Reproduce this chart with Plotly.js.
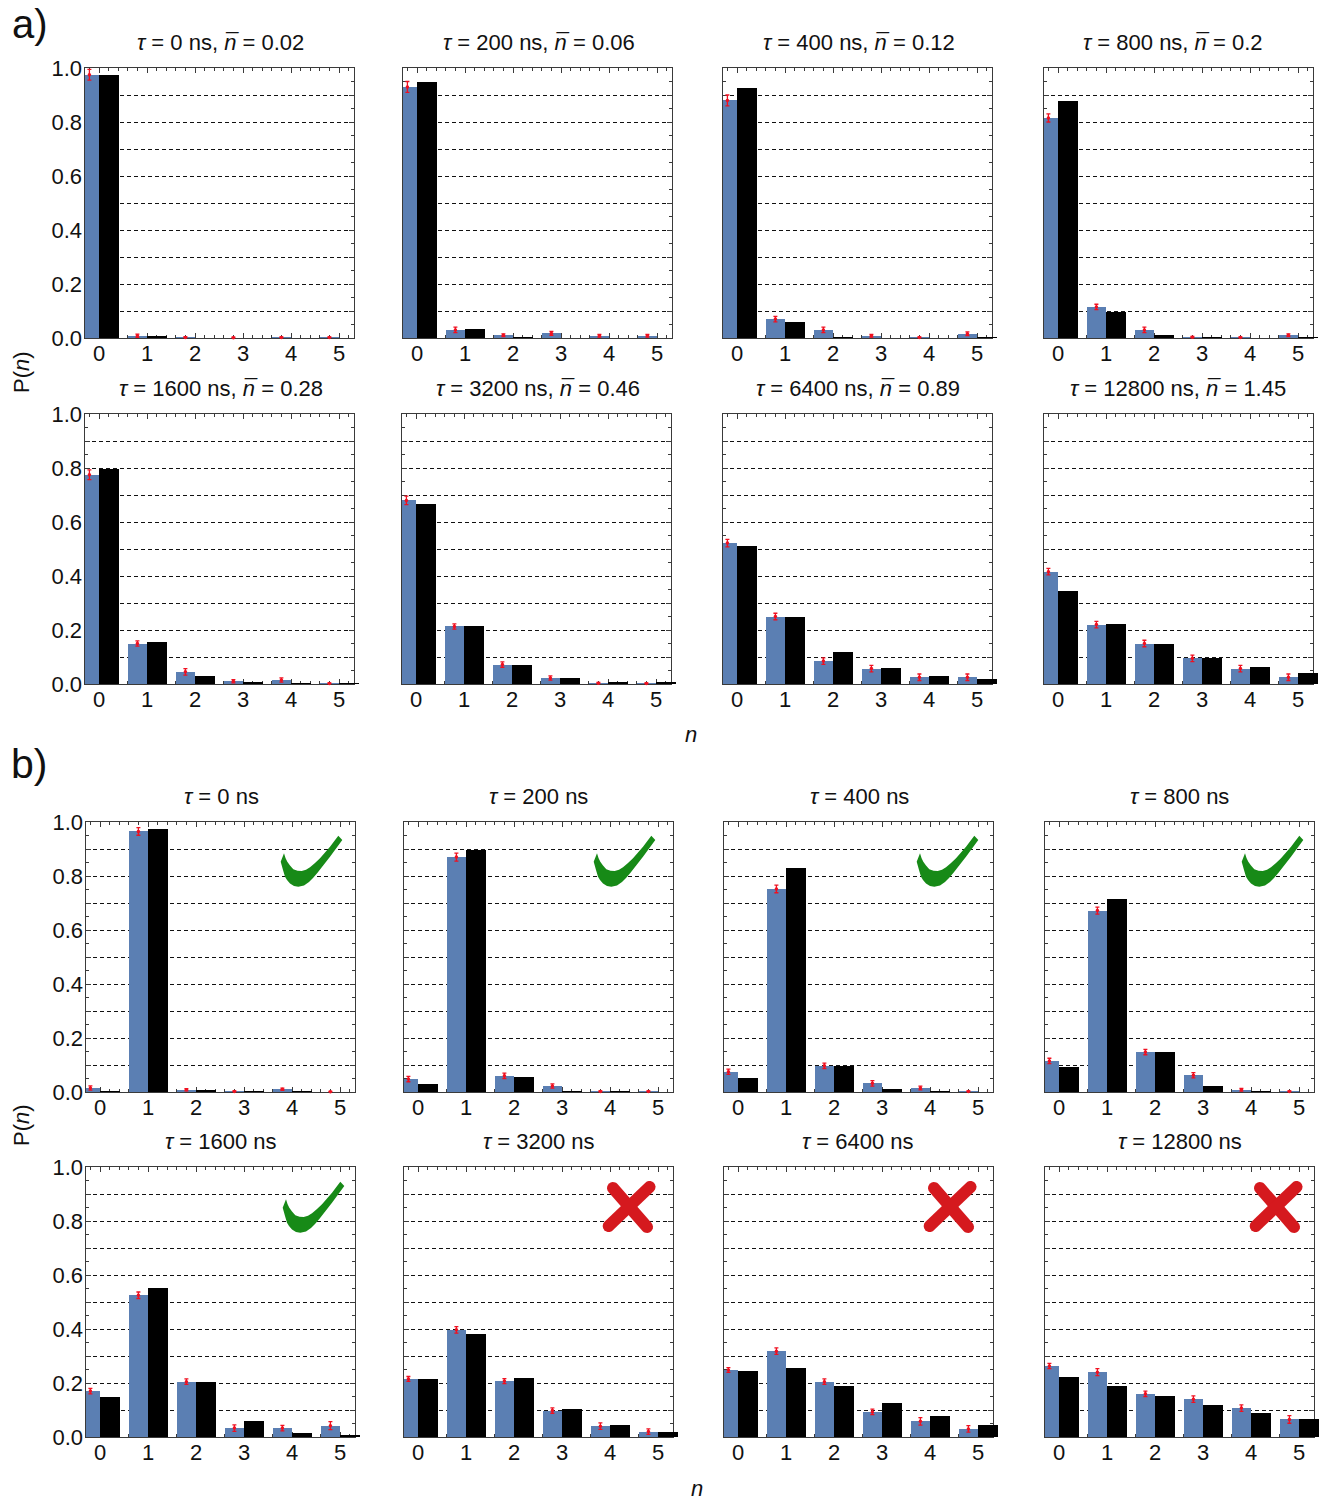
<!DOCTYPE html>
<html><head><meta charset="utf-8">
<script src="https://cdn.plot.ly/plotly-3.0.1.min.js"></script>
<style>html,body{margin:0;padding:0;background:#fff}</style></head>
<body><div id="chart" style="width:1332px;height:1501px"></div>
<script>
const occupation = [0,1,2,3,4,5];
const yTickVals = [0,0.1,0.2,0.3,0.4,0.5,0.6,0.7,0.8,0.9,1];
const yTickText = ['0.0','','0.2','','0.4','','0.6','','0.8','','1.0'];

const delays = [0,200,400,800,1600,3200,6400,12800];
const nbarA = ['0.02','0.06','0.12','0.2','0.28','0.46','0.89','1.45'];

const measuredA = [
 [.975,.008,.002,.001,.002,.002],
 [.93,.03,.01,.017,.008,.008],
 [.88,.07,.03,.008,.002,.016],
 [.815,.115,.03,.003,.002,.01],
 [.775,.15,.045,.01,.015,.002],
 [.68,.213,.072,.022,.003,.002],
 [.522,.25,.085,.057,.025,.025],
 [.416,.22,.15,.095,.057,.025]];
const theoryA = [
 [.975,.008,.001,.001,.001,.001],
 [.95,.033,.003,.001,.001,.001],
 [.925,.06,.005,.001,.001,.003],
 [.877,.097,.012,.002,.001,.005],
 [.795,.155,.03,.007,.003,.003],
 [.668,.215,.07,.023,.008,.006],
 [.51,.247,.12,.058,.028,.017],
 [.345,.224,.148,.097,.063,.042]];
const errorA = [
 [.02,.006,.003,.002,.002,.002],
 [.02,.01,.005,.007,.005,.005],
 [.02,.01,.01,.005,.002,.007],
 [.015,.01,.01,.003,.002,.005],
 [.018,.01,.012,.006,.008,.002],
 [.016,.01,.01,.008,.003,.002],
 [.014,.012,.012,.012,.012,.012],
 [.012,.012,.012,.012,.012,.012]];
const measuredB = [
 [.015,.965,.008,.002,.01,.001],
 [.048,.87,.06,.022,.002,.002],
 [.075,.752,.097,.032,.015,.002],
 [.115,.672,.148,.062,.008,.002],
 [.17,.525,.205,.033,.033,.042],
 [.215,.397,.207,.098,.04,.02],
 [.248,.318,.205,.093,.058,.03],
 [.263,.24,.16,.14,.107,.065]];
const theoryB = [
 [.002,.975,.006,.002,.003,.001],
 [.028,.897,.057,.003,.002,.001],
 [.052,.83,.095,.01,.002,.001],
 [.092,.715,.15,.023,.005,.001],
 [.15,.553,.205,.058,.016,.006],
 [.213,.382,.22,.103,.045,.02],
 [.245,.255,.19,.125,.077,.045],
 [.223,.19,.152,.117,.088,.065]];
const errorB = [
 [.008,.014,.004,.002,.004,.001],
 [.01,.015,.01,.008,.002,.002],
 [.01,.014,.01,.01,.007,.002],
 [.01,.013,.01,.01,.005,.002],
 [.01,.012,.01,.012,.01,.015],
 [.009,.012,.009,.01,.012,.01],
 [.009,.012,.01,.01,.014,.012],
 [.01,.013,.01,.012,.012,.014]];

const W=1332, H=1501;
const FONT='Liberation Sans, Arial, sans-serif';
const BLUE='#5b7fb3', INK='#000', FRAME='#3a3a3a';
// panel frames in pixels: left edge per column for each row, top edge per row
const frameLefts = [[84,402,722,1043],[84,401,722,1043],[85,403,723,1044],[85,403,723,1044]];
const frameTops = [68,414,822,1167];
const FRAME_W=269, FRAME_H=270, BAR_W=275, UNIT=48;
const titleCenters = [[220.5,538.5,859,1173],[220.5,537.5,857.5,1178],[221,538.5,859,1179],[221,538.5,858.5,1179.5]];
const titleYs = [43,389,796.5,1141.5];

const px=x=>x/W, py=y=>1-y/H;
const data=[], layout={width:W,height:H,margin:{l:0,r:0,t:0,b:0},paper_bgcolor:'#fff',plot_bgcolor:'rgba(0,0,0,0)',
  showlegend:false,bargap:0,barmode:'overlay',font:{family:FONT,size:22,color:'#111'},annotations:[],shapes:[]};

let idx=0;
for(let r=0;r<4;r++)for(let c=0;c<4;c++){
  idx++;
  const k=(r%2)*4+c, a=r<2;
  const m=(a?measuredA:measuredB)[k], t=(a?theoryA:theoryB)[k], e=(a?errorA:errorB)[k];
  const L=frameLefts[r][c]+0.5, T=frameTops[r];
  const j=idx+16; // second, hidden subplot: bars may overrun the frame on the right
  const xr='x'+idx, yr='y'+idx, xb='x'+j, yb='y'+j;
  const lo=-14.5/UNIT, hi=lo+FRAME_W/UNIT, hiBar=lo+BAR_W/UNIT;
  layout['xaxis'+idx]={domain:[px(L),px(L+FRAME_W)],range:[lo,hi],anchor:yr,tickmode:'array',tickvals:occupation,ticktext:occupation.map(String),
    ticks:'inside',ticklen:5,tickwidth:1,tickcolor:FRAME,mirror:'allticks',showline:true,linecolor:FRAME,linewidth:1,showgrid:false,zeroline:false,
    tickfont:{size:22,family:FONT,color:'#111'},ticklabelstandoff:-4,
    minor:{dtick:0.2,tick0:0,ticks:'inside',ticklen:3,tickwidth:1,tickcolor:FRAME}};
  layout['yaxis'+idx]={domain:[py(T+FRAME_H),py(T)],range:[0,1],anchor:xr,tickmode:'array',tickvals:yTickVals,
    ticktext:c===0?yTickText:yTickVals.map(()=>''),ticks:'inside',ticklen:5,tickwidth:1,tickcolor:FRAME,mirror:'allticks',showline:true,linecolor:FRAME,linewidth:1,
    showgrid:true,gridcolor:'#111',gridwidth:1,griddash:'4px,3px',zeroline:false,tickfont:{size:22,family:FONT,color:'#111'},ticklabelstandoff:-3,
    minor:{dtick:0.05,tick0:0,ticks:'inside',ticklen:3,tickwidth:1,tickcolor:FRAME}};
  layout['xaxis'+j]={domain:[px(L),px(L+BAR_W)],range:[lo,hiBar],anchor:yb,visible:false,showgrid:false,zeroline:false};
  layout['yaxis'+j]={domain:[py(T+FRAME_H),py(T)],range:[0,1],anchor:xb,visible:false,showgrid:false,zeroline:false};
  data.push({type:'scatter',mode:'markers',x:[],y:[],xaxis:xr,yaxis:yr,hoverinfo:'skip'});
  data.push({type:'bar',x:occupation,y:m,xaxis:xb,yaxis:yb,marker:{color:BLUE,line:{width:0}},
    offset:occupation.map(n=>n===0?lo:-0.4),width:occupation.map(n=>n===0?-lo:0.4),hoverinfo:'skip'});
  data.push({type:'bar',x:occupation,y:t,xaxis:xb,yaxis:yb,marker:{color:INK,line:{width:0}},
    offset:0,width:0.42,hoverinfo:'skip'});
  data.push({type:'scatter',mode:'markers',x:occupation.map(n=>n-0.2),y:m,xaxis:xb,yaxis:yb,cliponaxis:false,
    marker:{color:'#f01020',size:3.5},error_y:{type:'data',array:e,visible:true,color:'#f01020',thickness:1.3,width:2},hoverinfo:'skip'});
  const tau='<i>τ</i> = '+delays[k]+' ns';
  const txt=a?tau+', <i>n\u0305</i> = '+nbarA[k]:tau;
  layout.annotations.push({xref:'paper',yref:'paper',x:px(titleCenters[r][c]),y:py(titleYs[r]),text:txt,showarrow:false,
    xanchor:'center',yanchor:'middle',font:{size:22,family:FONT,color:'#111'}});
}

function label(x,y,text,size,extra){layout.annotations.push(Object.assign({xref:'paper',yref:'paper',x:px(x),y:py(y),text,showarrow:false,
  xanchor:'center',yanchor:'middle',font:{size,family:FONT,color:'#111'}},extra||{}));}
label(30,24,'a)',40);
label(29,764,'b)',41);
label(21,372,'P(<i>n</i>)',22,{textangle:-90});
label(21,1125,'P(<i>n</i>)',22,{textangle:-90});
label(691,735,'<i>n</i>',22);
label(697,1488,'<i>n</i>',22);

// verdict marks: outline relative to the check's tip, in pixels
const checkOutline=[[-3.7,-4.3],[0.3,0],[-12,16.7],[-24.7,33],[-29,38],[-33,42],[-38,45.5],[-43.7,46.7],[-48,46],[-52,43.5],[-55,40],[-57,36.7],[-59,30],[-61.3,21.7],[-58,13.3],[-56.5,18],[-54.7,21.7],[-52,25.5],[-48.7,29.3],[-44.5,30.8],[-40.3,31],[-36,29.7],[-32,27.3],[-27,23],[-22,18.3],[-12,6.7]];
const checkTips=[[342,840],[655,840],[978,840],[1303,840],[344,1186]];
const crossCenters=[[629,1207],[950,1207],[1276,1207]];
function polyPath(pts){return 'M'+pts.map(p=>px(p[0])+','+py(p[1])).join('L')+'Z';}
checkTips.forEach(tp=>layout.shapes.push({type:'path',xref:'paper',yref:'paper',line:{width:0},fillcolor:'#178a17',layer:'above',
  path:polyPath(checkOutline.map(p=>[tp[0]+p[0],tp[1]+p[1]]))}));
function capsule(x0,y0,x1,y1,rad){
  const ang=Math.atan2(y1-y0,x1-x0), pts=[];
  for(let i=0;i<=10;i++){const q=ang+Math.PI/2+i*Math.PI/10;pts.push([x0+rad*Math.cos(q),y0+rad*Math.sin(q)]);}
  for(let i=0;i<=10;i++){const q=ang-Math.PI/2+i*Math.PI/10;pts.push([x1+rad*Math.cos(q),y1+rad*Math.sin(q)]);}
  return pts;
}
crossCenters.forEach(ct=>{
  [[-16,-19,18,20],[20.5,-20,-20.3,19]].forEach(s=>layout.shapes.push({type:'path',xref:'paper',yref:'paper',line:{width:0},fillcolor:'#d5191e',layer:'above',
    path:polyPath(capsule(ct[0]+s[0],ct[1]+s[1],ct[0]+s[2],ct[1]+s[3],6))}));
});

Plotly.newPlot('chart',data,layout,{displayModeBar:false,staticPlot:true});
</script></body></html>
